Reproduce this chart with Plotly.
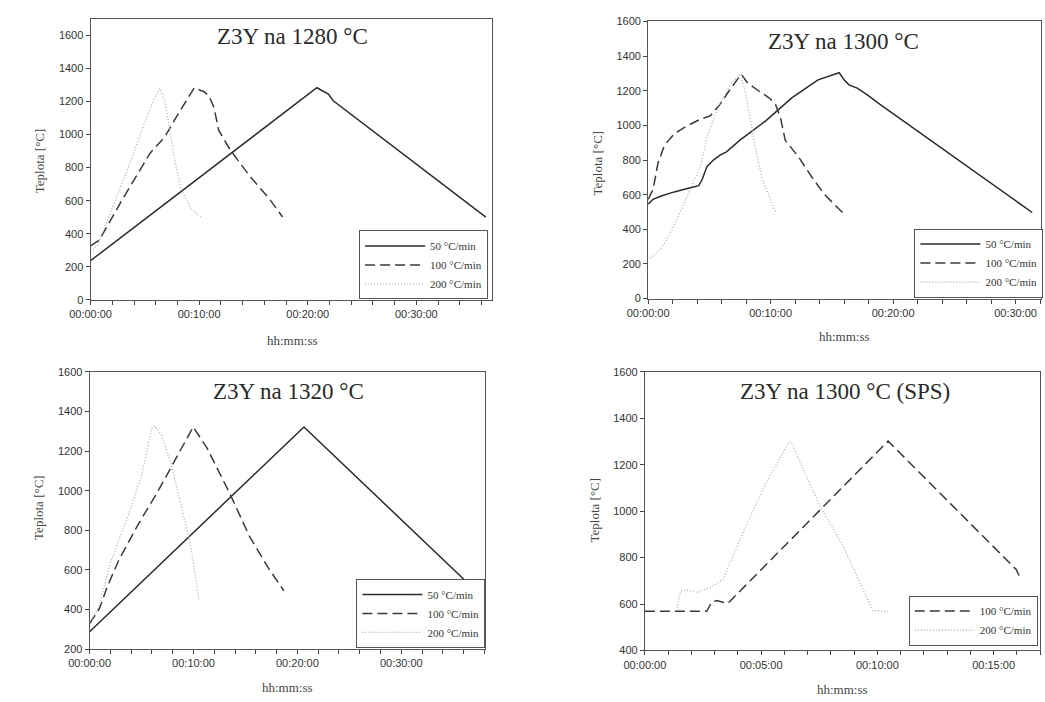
import plotly.graph_objects as go

# ---------------- data (time in minutes, temperature in °C) ----------------
# Panel 1: Z3Y na 1280 °C
p1_t50 = [0, 0.36, 20.84, 21.9, 22.35, 36.4]
p1_T50 = [238, 255, 1283, 1244, 1204, 501]
p1_t100 = [0, 0.81, 2.77, 4.73, 5.48, 6.84, 7.89, 9.55, 10.45, 10.9, 11.36, 11.8, 12.86, 14.67, 16.48, 17.68]
p1_T100 = [327, 362, 590, 808, 887, 986, 1105, 1283, 1259, 1234, 1164, 1026, 907, 748, 610, 501]
p1_t200 = [0, 0.66, 2.32, 3.52, 4.73, 5.63, 6.39, 6.84, 7.29, 7.74, 8.34, 9.25, 10.15]
p1_T200 = [293, 333, 610, 808, 1026, 1184, 1279, 1204, 1026, 848, 669, 550, 501]

# Panel 2: Z3Y na 1300 °C
p2_t50 = [0, 0.4, 1.07, 2.13, 3.2, 4.13, 4.4, 4.8, 5.33, 5.87, 6.4, 7.47, 9.6, 11.73, 13.87, 15.6, 16.0, 16.4, 17.07, 17.87, 18.93, 31.36]
p2_T50 = [545, 573, 592, 616, 635, 652, 686, 762, 800, 828, 847, 913, 1026, 1159, 1263, 1304, 1263, 1234, 1215, 1178, 1121, 497]
p2_t100 = [0, 0.4, 0.8, 1.33, 2.13, 3.2, 4.27, 5.07, 5.87, 6.67, 7.6, 8.13, 9.07, 9.87, 10.4, 10.8, 11.2, 12.27, 13.33, 14.4, 15.87]
p2_T100 = [573, 629, 781, 885, 951, 998, 1036, 1055, 1121, 1206, 1295, 1244, 1197, 1159, 1121, 1045, 913, 819, 705, 601, 497]
p2_t200 = [0.13, 1.07, 1.87, 2.53, 2.93, 3.47, 4.27, 4.8, 5.6, 6.67, 7.47, 7.87, 8.27, 8.8, 9.33, 10.0, 10.4]
p2_T200 = [232, 289, 384, 488, 554, 629, 762, 932, 1083, 1234, 1291, 1215, 1064, 856, 686, 573, 501]

# Panel 3: Z3Y na 1320 °C
p3_t50 = [0, 20.63, 37.07]
p3_T50 = [288, 1322, 500]
p3_t100 = [0, 0.94, 1.73, 2.83, 4.72, 6.6, 9.97, 11.32, 13.52, 15.4, 17.3, 18.7]
p3_T100 = [329, 404, 519, 652, 834, 999, 1322, 1214, 983, 768, 602, 495]
p3_t200 = [0, 1.0, 1.89, 3.77, 5.03, 5.97, 6.29, 6.92, 7.86, 8.8, 9.75, 10.53]
p3_T200 = [320, 430, 619, 883, 1082, 1314, 1327, 1280, 1132, 933, 718, 445]

# Panel 4: Z3Y na 1300 °C (SPS)
p4_t100 = [0, 2.66, 2.87, 3.08, 3.57, 10.46, 15.97, 16.1, 16.18]
p4_T100 = [569, 569, 608, 615, 603, 1302, 749, 720, 706]
p4_t200 = [1.35, 1.54, 1.82, 2.24, 2.8, 3.36, 4.2, 5.18, 6.16, 6.3, 6.72, 7.56, 8.54, 9.8, 10.5]
p4_T200 = [570, 657, 660, 650, 671, 706, 904, 1116, 1292, 1299, 1200, 1017, 847, 572, 569]

titles = ["Z3Y na 1280 °C", "Z3Y na 1300 °C", "Z3Y na 1320 °C", "Z3Y na 1300 °C (SPS)"]
series_names = ["50 °C/min", "100 °C/min", "200 °C/min"]
y_title = "Teplota [°C]"
x_title = "hh:mm:ss"

# ---------------- styling ----------------
W, H = 1045, 702
SERIF = "Liberation Serif, Times New Roman, serif"
SANS = "Liberation Sans, Arial, sans-serif"
styles = {
    "50 °C/min": dict(color="#2a2a2a", width=1.5, dash="solid"),
    "100 °C/min": dict(color="#3a3a3a", width=1.5, dash="10px,5px"),
    "200 °C/min": dict(color="#a8a8a8", width=1.2, dash="1px,2px"),
}

def hms(m):
    m = int(round(m))
    return f"{m // 60:02d}:{m % 60:02d}:00"

# panel boxes in pixels: (left, right, top, bottom)
boxes = [(71, 481, 13, 299), (640, 1040.7, 15.7, 297.7),
         (70, 474, 372.3, 654.3), (636.7, 1040, 372.3, 655.7)]
xranges = [[0, 37.0], [0, 32.06], [0, 38.1], [0, 17.0]]
yranges = [[0, 1700], [0, 1600], [200, 1600], [400, 1600]]
xmajor = [10, 10, 10, 5]
xminor = [2, 2, 2, 1]
title_pos = [(276.7, 31.0), (839, 36.0), (273.3, 392.5), (840.8, 392.5)]
ytitle_pos = [(18.3, 157), (588, 160), (18, 510), (585, 513)]
xtitle_pos = [(276.7, 340), (840, 336.7), (271.7, 693.3), (838.3, 695)]
# legend box: left x, vertical centre y
legend_pos = [(345, 263.5), (911.7, 261.5), (342.3, 618), (906, 625.3)]

panels = [
    [(p1_t50, p1_T50, "50 °C/min"), (p1_t100, p1_T100, "100 °C/min"), (p1_t200, p1_T200, "200 °C/min")],
    [(p2_t50, p2_T50, "50 °C/min"), (p2_t100, p2_T100, "100 °C/min"), (p2_t200, p2_T200, "200 °C/min")],
    [(p3_t50, p3_T50, "50 °C/min"), (p3_t100, p3_T100, "100 °C/min"), (p3_t200, p3_T200, "200 °C/min")],
    [(p4_t100, p4_T100, "100 °C/min"), (p4_t200, p4_T200, "200 °C/min")],
]

fig = go.Figure()
layout = dict(width=W, height=H, margin=dict(l=0, r=0, t=0, b=0),
              paper_bgcolor="white", plot_bgcolor="white", showlegend=True,
              annotations=[])

for i in range(4):
    sfx = "" if i == 0 else str(i + 1)
    lg = "legend" if i == 0 else f"legend{i + 1}"
    for t, T, name in panels[i]:
        fig.add_trace(go.Scatter(x=t, y=T, mode="lines", name=name,
                                 line=styles[name], xaxis="x" + sfx, yaxis="y" + sfx,
                                 legend=lg, hoverinfo="skip"))
    l, r, tp, bt = boxes[i]
    xt = list(range(0, int(xranges[i][1]) + 1, xmajor[i]))
    layout["xaxis" + sfx] = dict(
        domain=[l / W, r / W], anchor="y" + sfx, range=xranges[i],
        tickmode="array", tickvals=xt, ticktext=[hms(v) for v in xt],
        ticks="outside", ticklen=4, tickcolor="#444", showline=True, linecolor="#555",
        linewidth=1, mirror=True, showgrid=False, zeroline=False,
        tickfont=dict(family=SANS, size=11, color="#333"),
        minor=dict(tickmode="linear", tick0=0, dtick=xminor[i], ticks="outside",
                   ticklen=4, tickcolor="#444", showgrid=False))
    layout["yaxis" + sfx] = dict(
        domain=[1 - bt / H, 1 - tp / H], anchor="x" + sfx, range=yranges[i],
        tickmode="linear", tick0=0, dtick=200,
        ticks="outside", ticklen=4, tickcolor="#444", showline=True, linecolor="#555",
        linewidth=1, mirror=True, showgrid=False, zeroline=False,
        tickfont=dict(family=SANS, size=11, color="#333"))
    lx, ly = legend_pos[i]
    layout[lg] = dict(x=lx / W, y=1 - ly / H, xanchor="left", yanchor="middle",
                      xref="paper", yref="paper",
                      bgcolor="white", bordercolor="#555", borderwidth=1,
                      font=dict(family=SERIF, size=11, color="#333"),
                      itemwidth=60, tracegroupgap=0)
    tx, ty = title_pos[i]
    layout["annotations"].append(dict(text=titles[i], x=tx / W, y=1 - ty / H,
                                      xref="paper", yref="paper", showarrow=False,
                                      xanchor="center", yanchor="middle",
                                      font=dict(family=SERIF, size=23, color="#2a2a2a")))
    ax, ay = ytitle_pos[i]
    layout["annotations"].append(dict(text=y_title, x=ax / W, y=1 - ay / H,
                                      xref="paper", yref="paper", showarrow=False,
                                      textangle=-90, xanchor="center", yanchor="middle",
                                      font=dict(family=SERIF, size=13, color="#444")))
    bx, by = xtitle_pos[i]
    layout["annotations"].append(dict(text=x_title, x=bx / W, y=1 - by / H,
                                      xref="paper", yref="paper", showarrow=False,
                                      xanchor="center", yanchor="middle",
                                      font=dict(family=SERIF, size=13, color="#444")))

fig.update_layout(**layout)
fig.write_html("out.html")
